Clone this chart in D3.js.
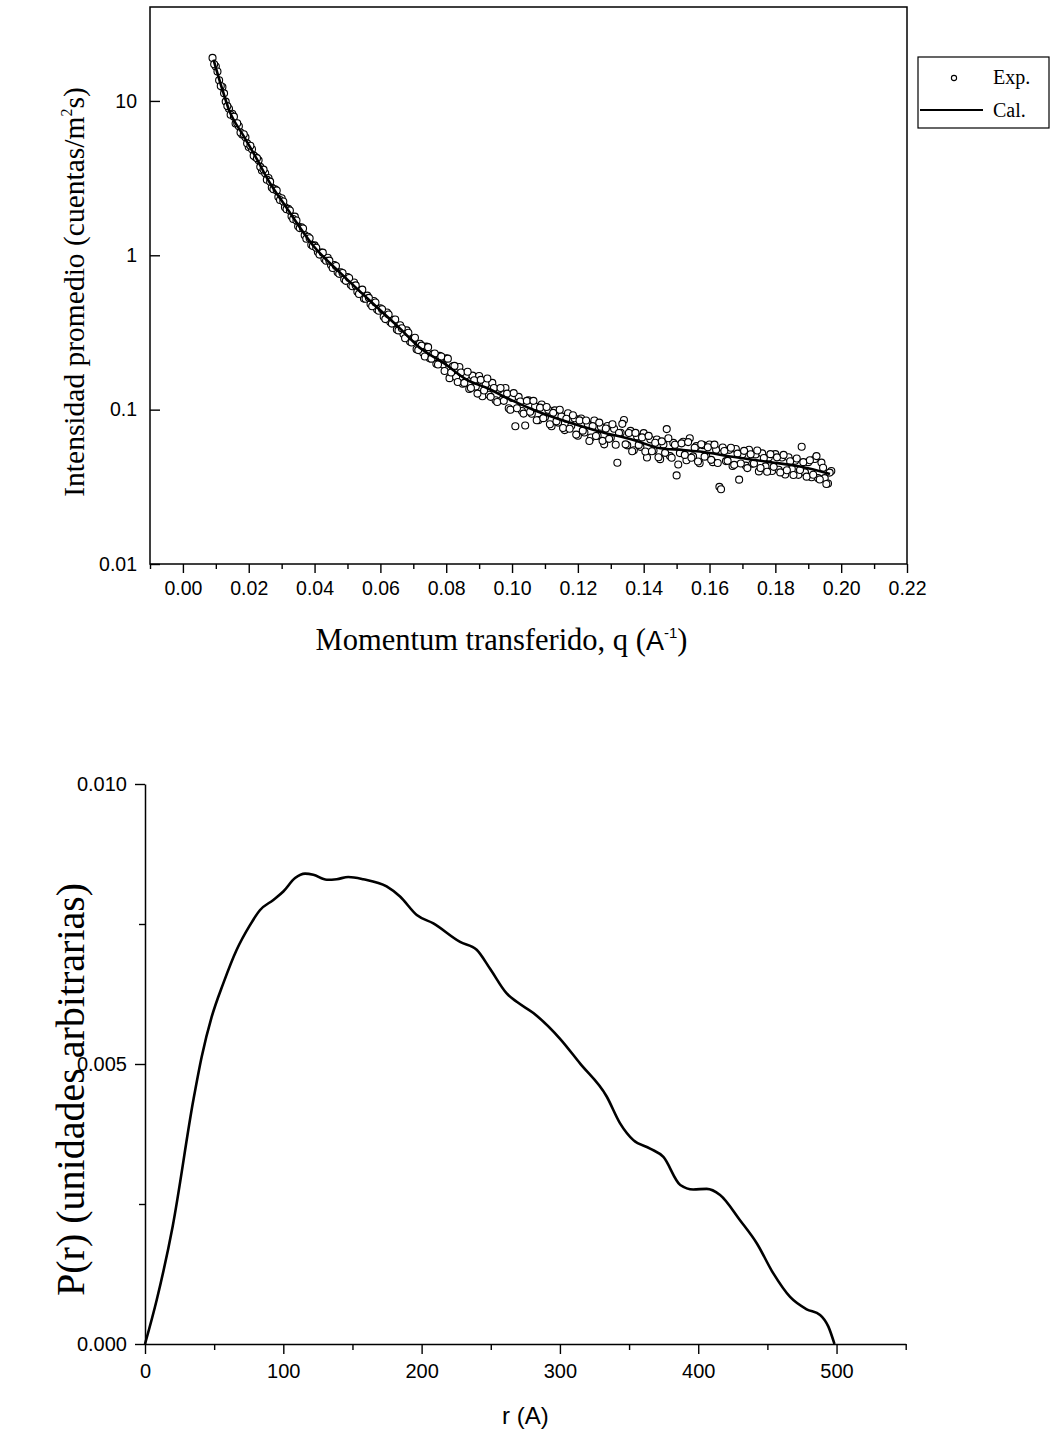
<!DOCTYPE html>
<html><head><meta charset="utf-8">
<script src="https://cdn.jsdelivr.net/npm/d3@7"></script>
<style>body{margin:0;background:#fff}</style>
</head><body>
<svg id="c" width="1051" height="1433" xmlns="http://www.w3.org/2000/svg"></svg>
<script>
// ---------- DATA: top chart (scattering intensity) ----------
const qExp = [
0.009,0.010,0.011,0.012,0.013,0.014,0.015,0.016,0.017,0.018,
0.019,0.020,0.021,0.022,0.023,0.024,0.025,0.026,0.027,0.028,
0.029,0.030,0.031,0.032,0.033,0.034,0.035,0.036,0.037,0.038,
0.039,0.040,0.041,0.042,0.043,0.044,0.045,0.046,0.047,0.048,
0.049,0.050,0.051,0.052,0.053,0.054,0.055,0.056,0.057,0.058,
0.059,0.060,0.061,0.062,0.063,0.064,0.065,0.066,0.067,0.068,
0.069,0.070,0.071,0.072,0.073,0.074,0.075,0.076,0.077,0.078,
0.079,0.080,0.081,0.082,0.083,0.084,0.085,0.086,0.087,0.088,
0.089,0.090,0.091,0.092,0.093,0.094,0.095,0.096,0.097,0.098,
0.099,0.100,0.101,0.102,0.103,0.104,0.105,0.106,0.107,0.108,
0.109,0.110,0.111,0.112,0.113,0.114,0.115,0.116,0.117,0.118,
0.119,0.120,0.121,0.122,0.123,0.124,0.125,0.126,0.127,0.128,
0.129,0.130,0.131,0.132,0.133,0.134,0.135,0.136,0.137,0.138,
0.139,0.140,0.141,0.142,0.143,0.144,0.145,0.146,0.147,0.148,
0.149,0.150,0.151,0.152,0.153,0.154,0.155,0.156,0.157,0.158,
0.159,0.160,0.161,0.162,0.163,0.164,0.165,0.166,0.167,0.168,
0.169,0.170,0.171,0.172,0.173,0.174,0.175,0.176,0.177,0.178,
0.179,0.180,0.181,0.182,0.183,0.184,0.185,0.186,0.187,0.188,
0.189,0.190,0.191,0.192,0.193,0.194,0.195,0.196,0.197];
const iExp = [
19.0,16.7,13.6,12.3,9.9,8.9,8.26,7.13,6.86,6.05,
5.82,5.03,4.86,4.33,4.12,3.54,3.40,3.17,2.75,2.68,
2.39,2.34,2.05,2.0,1.79,1.78,1.54,1.52,1.35,1.32,
1.17,1.16,1.05,1.04,0.946,0.964,0.865,0.866,0.776,0.777,
0.699,0.723,0.644,0.666,0.581,0.595,0.524,0.548,0.484,0.506,
0.446,0.453,0.40,0.426,0.37,0.382,0.33,0.352,0.309,0.326,
0.276,0.288,0.246,0.267,0.234,0.256,0.215,0.229,0.198,0.223,
0.196,0.215,0.160,0.191,0.163,0.189,0.147,0.167,0.136,0.166,
0.141,0.165,0.122,0.146,0.125,0.149,0.115,0.135,0.116,0.138,
0.102,0.119,0.078,0.121,0.098,0.079,0.115,0.094,0.105,0.0855,
0.108,0.0893,0.0997,0.0781,0.0989,0.0824,0.0904,0.0737,0.0948,0.0787,
0.088,0.0677,0.0877,0.0711,0.0808,0.066,0.0851,0.0677,0.0775,0.0596,
0.0784,0.0657,0.0752,0.0453,0.0708,0.0857,0.0587,0.0728,0.0546,0.0671,
0.0574,0.0704,0.049,0.0642,0.0544,0.064,0.0478,0.0594,0.0748,0.05,
0.0609,0.0375,0.0523,0.0619,0.047,0.0652,0.0498,0.058,0.0449,0.0589,
0.05,0.0595,0.0457,0.055,0.0316,0.0568,0.0464,0.0549,0.0431,0.0556,
0.0352,0.0514,0.0434,0.055,0.0446,0.0513,0.0398,0.0521,0.0429,0.049,
0.04,0.0515,0.0408,0.049,0.038,0.0492,0.0413,0.0467,0.0378,0.0575,
0.0392,0.0457,0.0365,0.0479,0.036,0.0454,0.036,0.0332,0.04];
// interleaved measurements (half steps)
const qExpB = [
0.0095,0.0105,0.0115,0.0125,0.0135,0.0145,0.0155,0.0165,0.0175,0.0185,
0.0195,0.0205,0.0215,0.0225,0.0235,0.0245,0.0255,0.0265,0.0275,0.0285,
0.0295,0.0305,0.0315,0.0325,0.0335,0.0345,0.0355,0.0365,0.0375,0.0385,
0.0395,0.0405,0.0415,0.0425,0.0435,0.0445,0.0455,0.0465,0.0475,0.0485,
0.0495,0.0505,0.0515,0.0525,0.0535,0.0545,0.0555,0.0565,0.0575,0.0585,
0.0595,0.0605,0.0615,0.0625,0.0635,0.0645,0.0655,0.0665,0.0675,0.0685,
0.0695,0.0705,0.0715,0.0725,0.0735,0.0745,0.0755,0.0765,0.0775,0.0785,
0.0795,0.0805,0.0815,0.0825,0.0835,0.0845,0.0855,0.0865,0.0875,0.0885,
0.0895,0.0905,0.0915,0.0925,0.0935,0.0945,0.0955,0.0965,0.0975,0.0985,
0.0995,0.1005,0.1015,0.1025,0.1035,0.1045,0.1055,0.1065,0.1075,0.1085,
0.1095,0.1105,0.1115,0.1125,0.1135,0.1145,0.1155,0.1165,0.1175,0.1185,
0.1195,0.1205,0.1215,0.1225,0.1235,0.1245,0.1255,0.1265,0.1275,0.1285,
0.1295,0.1305,0.1315,0.1325,0.1335,0.1345,0.1355,0.1365,0.1375,0.1385,
0.1395,0.1405,0.1415,0.1425,0.1435,0.1445,0.1455,0.1465,0.1475,0.1485,
0.1495,0.1505,0.1515,0.1525,0.1535,0.1545,0.1555,0.1565,0.1575,0.1585,
0.1595,0.1605,0.1615,0.1625,0.1635,0.1645,0.1655,0.1665,0.1675,0.1685,
0.1695,0.1705,0.1715,0.1725,0.1735,0.1745,0.1755,0.1765,0.1775,0.1785,
0.1795,0.1805,0.1815,0.1825,0.1835,0.1845,0.1855,0.1865,0.1875,0.1885,
0.1895,0.1905,0.1915,0.1925,0.1935,0.1945,0.1955,0.1965];
const iExpB = [
17.3,15.5,12.5,11.2,9.26,8.13,7.91,7.17,6.25,6.08,
5.31,5.12,4.42,4.26,3.74,3.59,3.09,3.0,2.68,2.63,
2.28,2.23,1.99,1.95,1.72,1.68,1.5,1.49,1.28,1.29,
1.15,1.12,1.01,1.04,0.922,0.923,0.828,0.853,0.758,0.767,
0.683,0.713,0.63,0.638,0.561,0.599,0.523,0.53,0.468,0.495,
0.437,0.447,0.386,0.413,0.361,0.384,0.326,0.337,0.29,0.315,
0.272,0.292,0.243,0.26,0.221,0.254,0.214,0.231,0.196,0.221,
0.178,0.214,0.174,0.192,0.151,0.174,0.149,0.176,0.138,0.155,
0.127,0.156,0.133,0.159,0.121,0.138,0.112,0.138,0.114,0.127,
0.0998,0.128,0.102,0.113,0.0943,0.114,0.0969,0.114,0.0853,0.103,
0.0881,0.104,0.0805,0.0953,0.084,0.0999,0.076,0.0873,0.0752,0.0919,
0.0689,0.0852,0.0731,0.0851,0.0627,0.0782,0.0675,0.0824,0.0628,0.0754,
0.0647,0.0805,0.0592,0.0706,0.0809,0.0596,0.0706,0.0538,0.0707,0.0591,
0.0661,0.0536,0.0676,0.0537,0.061,0.0492,0.0623,0.0525,0.0652,0.0488,
0.0592,0.0441,0.0605,0.0509,0.0616,0.0488,0.0566,0.0461,0.0597,0.0496,
0.0571,0.0473,0.0593,0.0451,0.0305,0.054,0.0466,0.0567,0.0439,0.0519,
0.0448,0.0541,0.0418,0.0514,0.0448,0.0544,0.0419,0.0486,0.0396,0.0515,
0.0426,0.0491,0.0392,0.0509,0.0405,0.0463,0.0377,0.0482,0.0406,0.0457,
0.0368,0.047,0.0379,0.05,0.0353,0.042,0.033,0.0391];
const qCal = [0.0093,0.0115,0.014,0.0185,0.0226,0.0256,0.0317,0.0398,0.0479,0.056,0.066,0.072,0.0793,0.0863,0.0924,0.0995,0.1066,0.1167,0.1268,0.1369,0.145,0.152,0.157,0.167,0.1774,0.1875,0.1966];
const iCal = [18.5,12.8,8.75,5.9,4.15,3.15,2.0,1.14,0.766,0.527,0.335,0.252,0.2,0.156,0.138,0.116,0.0995,0.0835,0.072,0.0637,0.0562,0.0548,0.0535,0.0495,0.046,0.0428,0.0383];
const qTicks = [0,0.02,0.04,0.06,0.08,0.10,0.12,0.14,0.16,0.18,0.20,0.22];
const qTickLabels = ["0.00","0.02","0.04","0.06","0.08","0.10","0.12","0.14","0.16","0.18","0.20","0.22"];
const qMinor = [-0.01,0.01,0.03,0.05,0.07,0.09,0.11,0.13,0.15,0.17,0.19,0.21];
const iTicks = [0.01,0.1,1,10];
const iTickLabels = ["0.01","0.1","1","10"];
const legendLabels = ["Exp.","Cal."];

// ---------- DATA: bottom chart (distance distribution) ----------
const rDist = [0,8.5,20,35,41,48.2,56.6,66.3,75.9,83.2,92.8,100,108.5,115.7,121.7,131.4,138.6,147,157.8,174.7,184.4,196.5,208.5,227.8,239.8,249.5,261.5,268.8,280.8,300.1,314.5,333.8,343.5,353.1,365.2,374.8,387,396.4,406.1,415.8,430.2,442.3,454.3,466.4,478.4,488.1,494.1,498.5];
const pDist = [0,0.00079,0.0021,0.00436,0.00513,0.00584,0.00644,0.00704,0.00748,0.00775,0.00793,0.00808,0.00832,0.0084,0.00838,0.00829,0.0083,0.00834,0.0083,0.00817,0.00799,0.00766,0.00751,0.00718,0.00704,0.0067,0.00626,0.00611,0.00591,0.00545,0.00501,0.00442,0.00394,0.00364,0.00349,0.00334,0.00284,0.00276,0.00277,0.00266,0.00221,0.0018,0.00126,0.00084,0.00062,0.00052,0.00031,0];
const rTicks = [0,100,200,300,400,500];
const rMinor = [50,150,250,350,450,550];
const pTicks = [0,0.005,0.010];
const pTickLabels = ["0.000","0.005","0.010"];
const pMinor = [0.0025,0.0075];

// ---------- DRAW ----------
const SERIF = "'Liberation Serif','Times New Roman',serif";
const SANS = "'Liberation Sans',Arial,sans-serif";
const svg = d3.select("#c");
svg.append("rect").attr("width",1051).attr("height",1433).attr("fill","#fff");

function styleAxis(g, size){
  g.attr("font-size",null).attr("font-family",null);
  g.selectAll("line").attr("stroke","#000").attr("stroke-width",1.4);
  g.selectAll("path.domain").attr("stroke","#000").attr("stroke-width",1.5);
  g.selectAll("text").attr("font-family",SANS).attr("font-size",size).attr("fill","#000");
}

// ===== Top chart =====
const x1 = d3.scaleLinear().domain([-0.01,0.22]).range([150,907]);
const y1 = d3.scaleLog().domain([0.01,40.6]).range([564,7]);
const g1 = svg.append("g");

const expPts = qExp.map((q,i)=>[q,iExp[i]]).concat(qExpB.map((q,i)=>[q,iExpB[i]]));
g1.append("g").selectAll("circle").data(expPts).join("circle")
  .attr("cx",d=>x1(d[0])).attr("cy",d=>y1(d[1])).attr("r",3.5)
  .attr("fill","#fff").attr("stroke","#000").attr("stroke-width",1.1);

g1.append("path").datum(qCal.map((q,i)=>[q,iCal[i]]))
  .attr("d", d3.line().x(d=>x1(d[0])).y(d=>y1(d[1])).curve(d3.curveMonotoneX))
  .attr("fill","none").attr("stroke","#000").attr("stroke-width",2.6);

g1.append("rect").attr("x",x1(-0.01)).attr("y",y1(40.6))
  .attr("width",x1(0.22)-x1(-0.01)).attr("height",y1(0.01)-y1(40.6))
  .attr("fill","none").attr("stroke","#000").attr("stroke-width",1.5);

const ax1 = g1.append("g").attr("transform",`translate(0,${y1(0.01)})`)
  .call(d3.axisBottom(x1).tickValues(qTicks).tickSize(9).tickPadding(8)
        .tickFormat(d=>qTickLabels[qTicks.indexOf(d)]));
ax1.select(".domain").remove(); styleAxis(ax1,19.5);
const ax1m = g1.append("g").attr("transform",`translate(0,${y1(0.01)})`)
  .call(d3.axisBottom(x1).tickValues(qMinor).tickSize(5).tickFormat(""));
ax1m.select(".domain").remove(); styleAxis(ax1m,19.5);

const ay1 = g1.append("g").attr("transform",`translate(${x1(-0.01)},0)`)
  .call(d3.axisLeft(y1).tickValues(iTicks).tickSizeInner(-10).tickSizeOuter(0).tickPadding(13)
        .tickFormat(d=>iTickLabels[iTicks.indexOf(d)]));
ay1.select(".domain").remove(); styleAxis(ay1,19.5);

// axis titles
const xt1 = g1.append("text").attr("x",(x1(-0.01)+x1(0.22))/2 - 27).attr("y",650)
  .attr("text-anchor","middle").attr("font-family",SERIF).attr("font-size",30.5).attr("fill","#000");
xt1.append("tspan").text("Momentum transferido, q (");
xt1.append("tspan").attr("font-family",SANS).attr("font-size",27).text("A");
xt1.append("tspan").attr("font-family",SANS).attr("font-size",15).attr("dy",-12).text("-1");
xt1.append("tspan").attr("dy",12).text(")");

const yt1 = g1.append("text").attr("transform",`translate(84,292) rotate(-90)`)
  .attr("text-anchor","middle").attr("font-family",SERIF).attr("font-size",29.5).attr("fill","#000");
yt1.append("tspan").text("Intensidad promedio (cuentas/m");
yt1.append("tspan").attr("font-size",16).attr("dy",-12).text("2");
yt1.append("tspan").attr("dy",12).text("s)");

// legend
const lg = g1.append("g");
lg.append("rect").attr("x",918).attr("y",57).attr("width",131).attr("height",71)
  .attr("fill","#fff").attr("stroke","#000").attr("stroke-width",1.2);
lg.append("circle").attr("cx",954).attr("cy",78).attr("r",2.6)
  .attr("fill","#fff").attr("stroke","#000").attr("stroke-width",1.1);
lg.append("line").attr("x1",920).attr("x2",983).attr("y1",110).attr("y2",110)
  .attr("stroke","#000").attr("stroke-width",2);
lg.selectAll("text.lab").data(legendLabels).join("text").attr("class","lab")
  .attr("x",993).attr("y",(d,i)=>i===0?84:117)
  .attr("font-family",SERIF).attr("font-size",20).attr("fill","#000").text(d=>d);

// ===== Bottom chart =====
const x2 = d3.scaleLinear().domain([0,550]).range([145,905.7]);
const y2 = d3.scaleLinear().domain([0,0.010]).range([1344,784]);
const g2 = svg.append("g");

const ax2 = g2.append("g").attr("transform",`translate(0,${y2(0)})`)
  .call(d3.axisBottom(x2).tickValues(rTicks).tickSize(10).tickSizeOuter(0).tickPadding(10)
        .tickFormat(d=>String(d)));
styleAxis(ax2,20);
const ax2m = g2.append("g").attr("transform",`translate(0,${y2(0)})`)
  .call(d3.axisBottom(x2).tickValues(rMinor).tickSize(6).tickFormat(""));
ax2m.select(".domain").remove(); styleAxis(ax2m,20);

const ay2 = g2.append("g").attr("transform",`translate(${x2(0)},0)`)
  .call(d3.axisLeft(y2).tickValues(pTicks).tickSize(10).tickSizeOuter(0).tickPadding(8)
        .tickFormat(d=>pTickLabels[pTicks.indexOf(d)]));
styleAxis(ay2,20);
const ay2m = g2.append("g").attr("transform",`translate(${x2(0)},0)`)
  .call(d3.axisLeft(y2).tickValues(pMinor).tickSize(6).tickFormat(""));
ay2m.select(".domain").remove(); styleAxis(ay2m,20);

g2.append("path").datum(rDist.map((r,i)=>[r,pDist[i]]))
  .attr("d", d3.line().x(d=>x2(d[0])).y(d=>y2(d[1])).curve(d3.curveMonotoneX))
  .attr("fill","none").attr("stroke","#000").attr("stroke-width",2.6).attr("stroke-linejoin","round");

g2.append("text").attr("x",(x2(0)+x2(550))/2).attr("y",1424).attr("text-anchor","middle")
  .attr("font-family",SANS).attr("font-size",24).attr("fill","#000").text("r (A)");

g2.append("text").attr("transform",`translate(84,1296) rotate(-90)`)
  .attr("text-anchor","start").attr("font-family",SERIF).attr("font-size",40).attr("fill","#000")
  .text("P(r) (unidades arbitrarias)");
</script>
</body></html>
